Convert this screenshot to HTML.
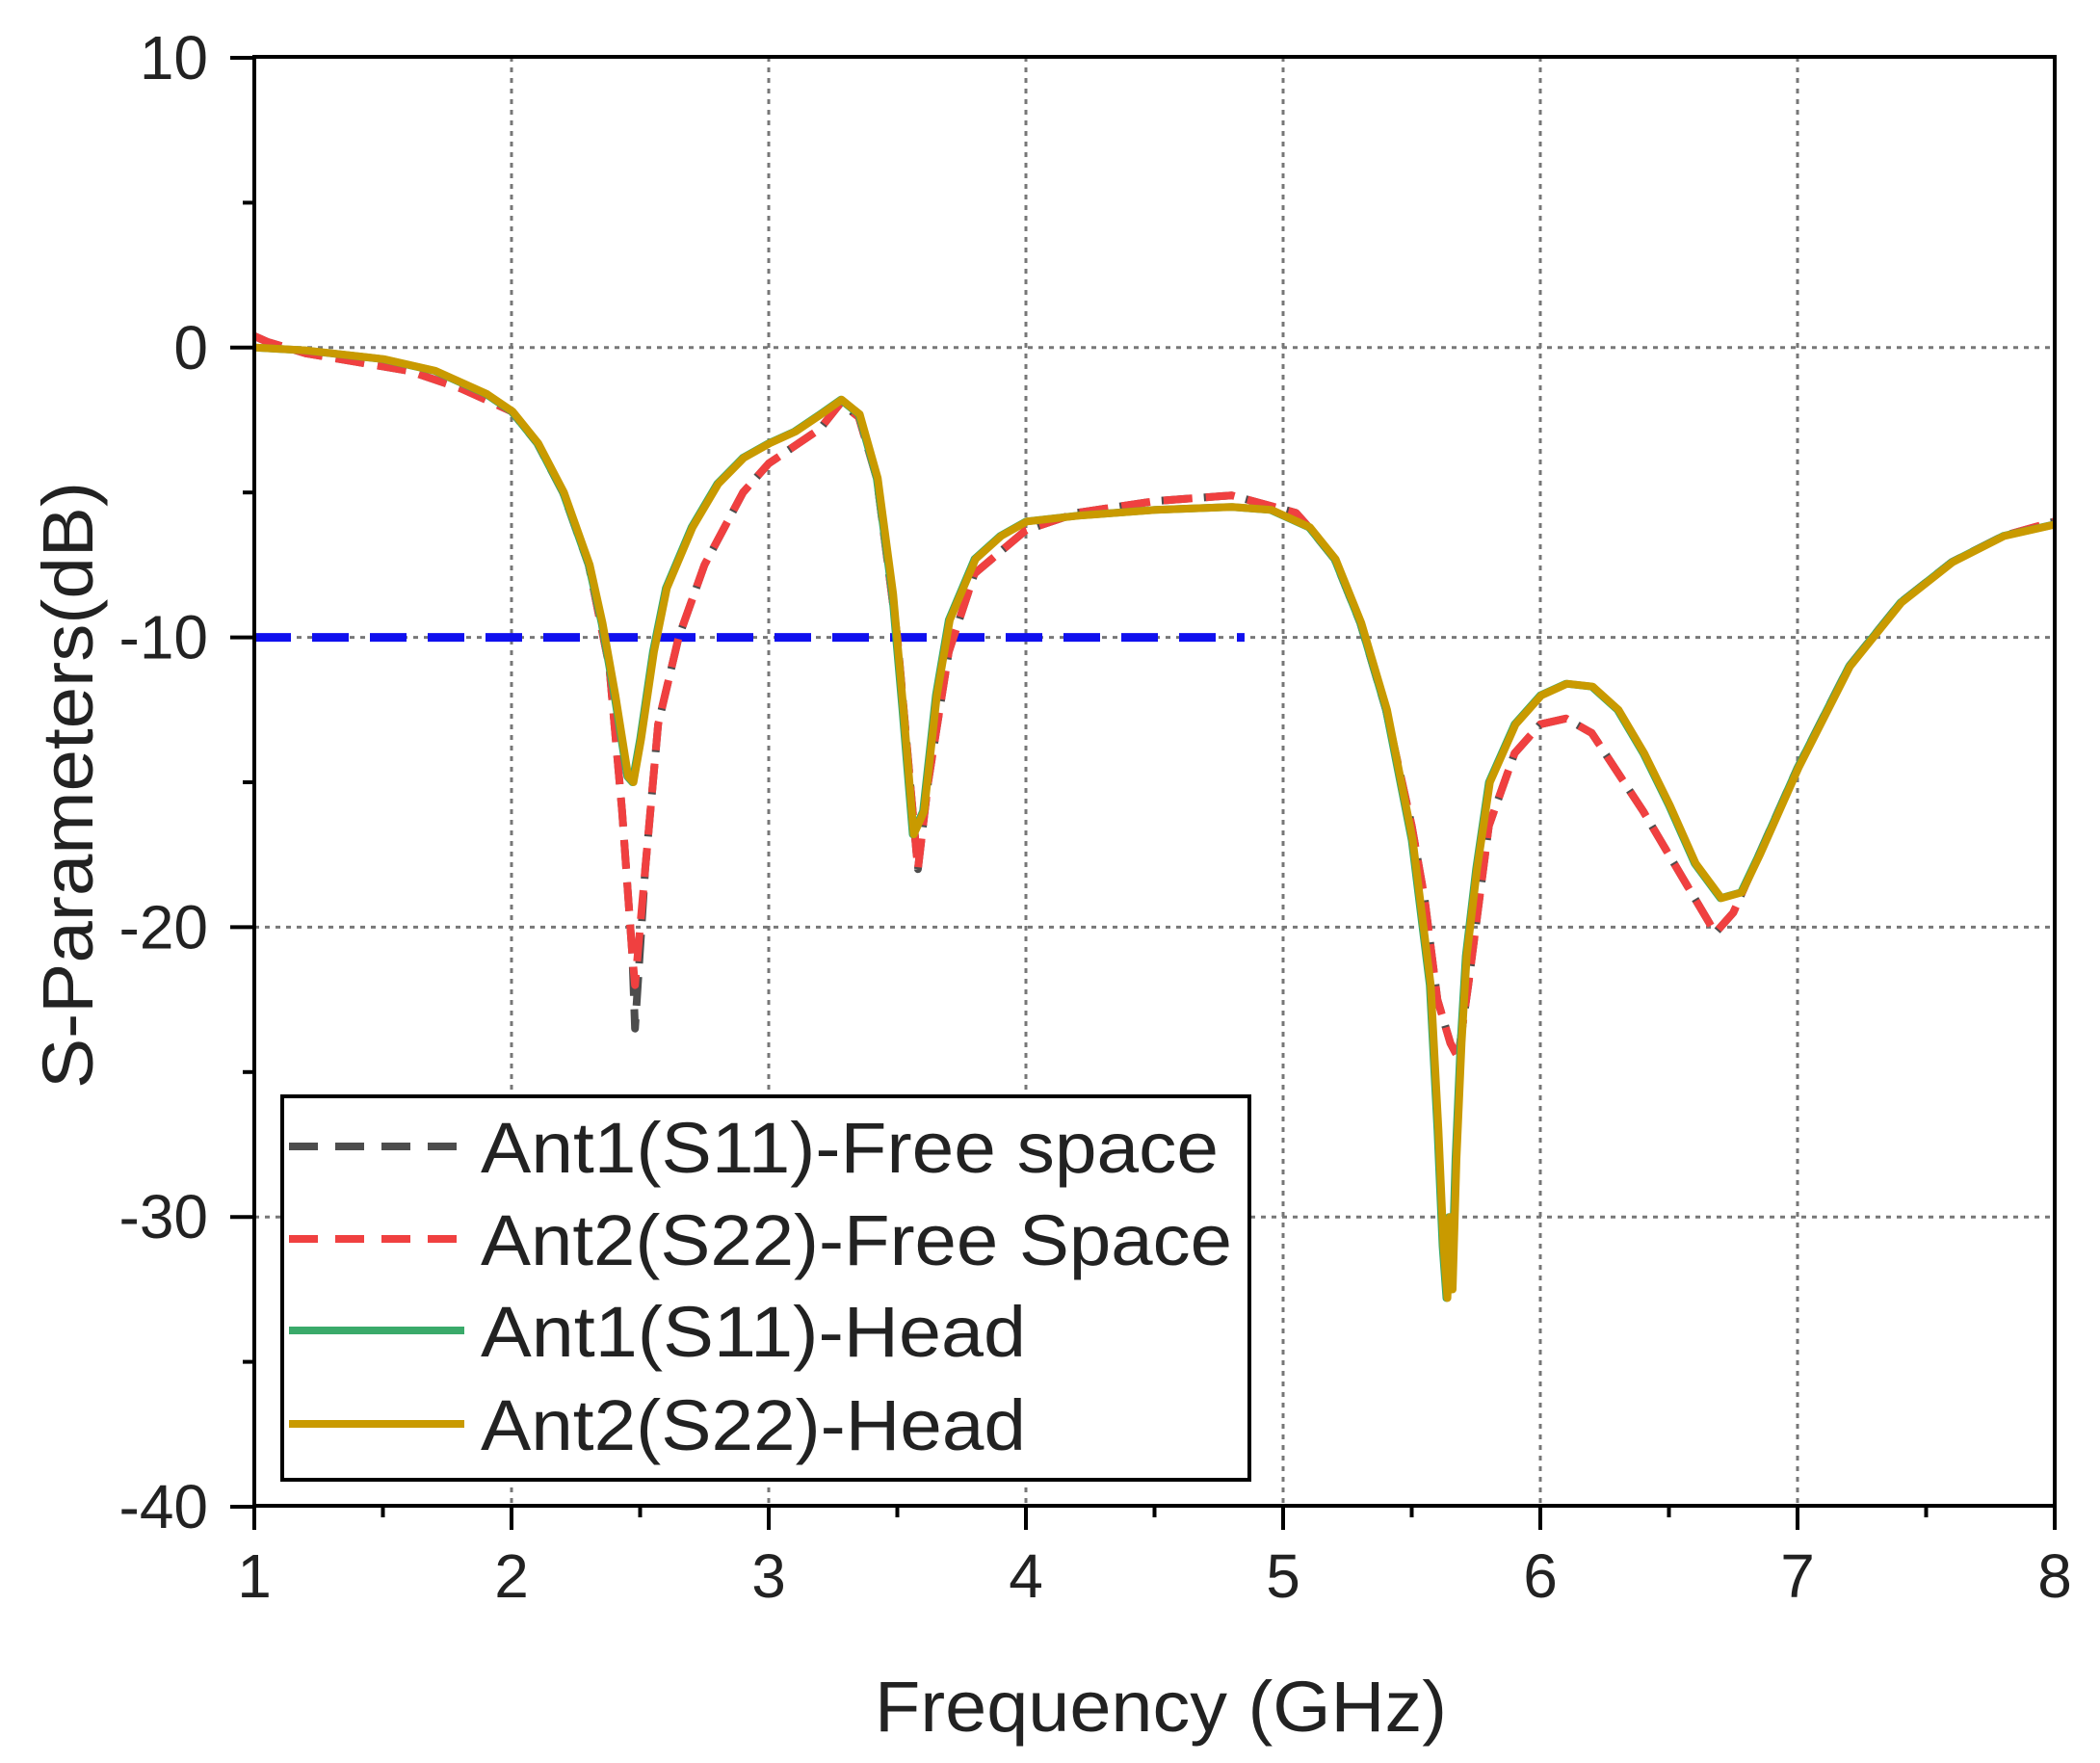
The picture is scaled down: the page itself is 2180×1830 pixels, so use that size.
<!DOCTYPE html>
<html><head><meta charset="utf-8"><style>
html,body{margin:0;padding:0;background:#fff;}
svg{display:block;}
text{font-family:"Liberation Sans",sans-serif;fill:#222;}
</style></head><body>
<svg id="s" width="2180" height="1830" viewBox="0 0 2180 1830" xmlns="http://www.w3.org/2000/svg">
<g id="grid" stroke="#777" stroke-width="3" stroke-dasharray="5,6"></g>
<g id="series" fill="none" stroke-linejoin="round" stroke-linecap="butt"></g>
<rect x="264" y="59" width="1869" height="1504" fill="none" stroke="#000" stroke-width="4"/>
<g id="ticks" stroke="#000" stroke-width="4"></g>
<g id="labels" font-size="64"></g>
<text x="1205" y="1797" font-size="74" text-anchor="middle" textLength="594" lengthAdjust="spacingAndGlyphs">Frequency (GHz)</text>
<text transform="translate(96,815) rotate(-90)" font-size="74" text-anchor="middle" textLength="630" lengthAdjust="spacingAndGlyphs">S-Parameters(dB)</text>
<rect x="293" y="1138" width="1004" height="398" fill="#fff" stroke="#000" stroke-width="4"/>
<g stroke-width="8" fill="none">
<line x1="300" y1="1190" x2="482" y2="1190" stroke="#4d4d4d" stroke-dasharray="30,18"/>
<line x1="300" y1="1286" x2="482" y2="1286" stroke="#f04040" stroke-dasharray="30,18"/>
<line x1="300" y1="1381" x2="482" y2="1381" stroke="#3aaa6a"/>
<line x1="300" y1="1478" x2="482" y2="1478" stroke="#c99a00"/>
</g>
<g font-size="74">
<text x="499" y="1217" textLength="766" lengthAdjust="spacingAndGlyphs">Ant1(S11)-Free space</text>
<text x="499" y="1313" textLength="780" lengthAdjust="spacingAndGlyphs">Ant2(S22)-Free Space</text>
<text x="499" y="1408" textLength="566" lengthAdjust="spacingAndGlyphs">Ant1(S11)-Head</text>
<text x="499" y="1505" textLength="566" lengthAdjust="spacingAndGlyphs">Ant2(S22)-Head</text>
</g>
</svg>
<script>
var NS="http://www.w3.org/2000/svg";
function X(f){return 264+(f-1)*267;}
function Y(d){return 360.8-d*30.08;}
function el(p,t,a,txt){var e=document.createElementNS(NS,t);for(var k in a)e.setAttribute(k,a[k]);if(txt!==undefined)e.textContent=txt;document.getElementById(p).appendChild(e);return e;}
for(var g=2;g<=7;g++)el("grid","line",{x1:X(g),y1:59,x2:X(g),y2:1563});
[0,-10,-20,-30].forEach(function(d){el("grid","line",{x1:264,y1:Y(d),x2:2133,y2:Y(d)});});
for(var f=1;f<=8;f+=0.5){var maj=(f%1===0);el("ticks","line",{x1:X(f),y1:1563,x2:X(f),y2:1563+(maj?25:12)});
 if(maj)el("labels","text",{x:X(f),y:1658,"text-anchor":"middle"},String(f));}
for(var d=10;d>=-40;d-=5){var maj=(d%10===0);el("ticks","line",{x1:264,y1:Y(d),x2:264-(maj?25:12),y2:Y(d)});
 if(maj)el("labels","text",{x:216,y:Y(d)+22,"text-anchor":"end"},String(d));}
var head=[[1.0,0],[1.2,-0.1],[1.5,-0.4],[1.7,-0.8],[1.9,-1.6],[2.0,-2.2],[2.1,-3.3],[2.2,-5],[2.3,-7.5],[2.35,-9.5],[2.4,-12],[2.45,-14.8],[2.47,-15],[2.5,-13.5],[2.55,-10.5],[2.6,-8.3],[2.7,-6.2],[2.8,-4.7],[2.9,-3.8],[3.0,-3.3],[3.1,-2.9],[3.2,-2.3],[3.28,-1.8],[3.35,-2.3],[3.42,-4.5],[3.48,-8.5],[3.52,-12.5],[3.56,-16.8],[3.6,-16],[3.65,-12],[3.7,-9.4],[3.8,-7.3],[3.9,-6.5],[4.0,-6],[4.2,-5.8],[4.5,-5.6],[4.8,-5.5],[4.95,-5.6],[5.1,-6.2],[5.2,-7.3],[5.3,-9.5],[5.4,-12.5],[5.5,-17],[5.57,-22],[5.6,-27],[5.62,-31],[5.635,-32.8],[5.645,-30],[5.655,-32.5],[5.67,-28],[5.69,-24],[5.71,-21],[5.75,-18],[5.8,-15],[5.9,-13],[6.0,-12],[6.1,-11.6],[6.2,-11.7],[6.3,-12.5],[6.4,-14],[6.5,-15.8],[6.6,-17.8],[6.7,-19],[6.78,-18.8],[6.85,-17.5],[7.0,-14.5],[7.2,-11],[7.4,-8.8],[7.6,-7.4],[7.8,-6.5],[8.0,-6.1]];
function free(deep){return [[1.0,0.4],[1.05,0.2],[1.2,-0.2],[1.4,-0.5],[1.6,-0.8],[1.8,-1.4],[2.0,-2.2],[2.1,-3.3],[2.2,-5],[2.3,-7.5],[2.38,-11],[2.43,-16],[2.47,-21],[2.48,deep],[2.52,-18],[2.57,-13],[2.65,-10],[2.75,-7.5],[2.9,-5],[3.0,-4],[3.2,-2.8],[3.28,-1.9],[3.35,-2.4],[3.42,-4.5],[3.5,-10],[3.55,-15],[3.58,-18],[3.62,-15],[3.7,-10.5],[3.8,-7.8],[4.0,-6.3],[4.2,-5.7],[4.5,-5.3],[4.8,-5.1],[5.05,-5.7],[5.1,-6.2],[5.2,-7.3],[5.3,-9.5],[5.4,-12.5],[5.5,-16.5],[5.55,-19],[5.6,-22.5],[5.65,-24],[5.68,-24.5],[5.72,-22],[5.8,-16.5],[5.9,-14],[6.0,-13],[6.1,-12.8],[6.2,-13.3],[6.4,-16],[6.6,-19],[6.68,-20.2],[6.75,-19.5],[6.85,-17.5],[7.0,-14.5],[7.2,-11],[7.4,-8.8],[7.6,-7.4],[7.8,-6.5],[8.0,-6.0]];}
function pts(a){return a.map(function(p){return X(p[0]).toFixed(1)+","+Y(p[1]).toFixed(1);}).join(" ");}
el("series","line",{x1:X(1),y1:Y(-10),x2:X(4.85),y2:Y(-10),stroke:"#1010ee","stroke-width":9,"stroke-dasharray":"38,22"});
el("series","polyline",{points:pts(free(-23.5)),stroke:"#4d4d4d","stroke-width":8,"stroke-dasharray":"30,14"});
el("series","polyline",{points:pts(free(-22)),stroke:"#f04040","stroke-width":8,"stroke-dasharray":"30,14"});
el("series","polyline",{points:pts(head),stroke:"#3aaa6a","stroke-width":8});
el("series","polyline",{points:pts(head.map(function(p){return [p[0]+0.004,p[1]];})),stroke:"#c99a00","stroke-width":8});
</script>
</body></html>
